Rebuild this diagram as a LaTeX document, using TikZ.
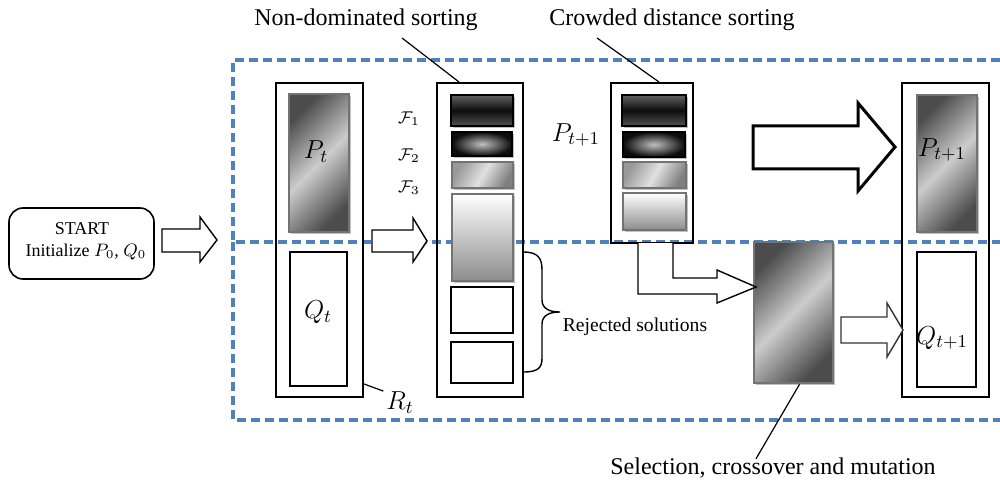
\RequirePackage{fix-cm}
\documentclass[tikz,border=0pt]{standalone}
\usepackage{fontspec}
\setmainfont{Liberation Serif}
\usetikzlibrary{fit,shadows}
\definecolor{dblue}{RGB}{79,129,189}
\begin{document}
\begin{tikzpicture}[x=0.5pt,y=-0.5pt,
  box/.style={draw=black, line width=1pt, inner sep=0pt},
  dashblue/.style={draw=dblue, line width=1.6pt, dash pattern=on 4.5pt off 2.5pt},
  shad/.style={drop shadow={shadow xshift=1pt, shadow yshift=-1pt, opacity=0.45, fill=black!55}},
  gradbox/.style={inner sep=0pt, draw=black!55, line width=1.3pt, shad,
     top color=black!70, bottom color=black!70, middle color=black!20, shading angle=45},
  barA/.style={inner sep=0pt, draw=black, line width=1.3pt, shad,
     top color=black!62, bottom color=black!68, middle color=black!95, shading angle=0},
  barB/.style={inner sep=0pt, draw=black, line width=1.3pt, shad,
     inner color=black!25, outer color=black!95},
  barC/.style={inner sep=0pt, draw=black!55, line width=1.3pt, shad,
     top color=black!40, bottom color=black!50, middle color=black!12, shading angle=60},
  barD/.style={inner sep=0pt, draw=black!55, line width=1.3pt, shad,
     top color=white, bottom color=black!45},
  blockarr/.style={draw=black, line width=0.7pt, fill=white, line join=miter},
  leader/.style={draw=black, line width=0.6pt},
  lbl/.style={font=\fontsize{12}{14}\selectfont},
  mlbl/.style={font=\fontsize{13}{15}\selectfont},
  flbl/.style={font=\fontsize{8.5}{10}\selectfont}
]
\useasboundingbox (0,0) rectangle (1000,486);

% dashed frames
\draw[dashblue] (1000,60) -- (233,60) -- (233,242) -- (1000,242);
\draw[dashblue] (233,242) -- (233,420) -- (1000,420);

% START
\node[draw, rounded corners=7pt, line width=0.8pt, inner sep=0pt, fit={(9,208) (154,279)}] (start) {};
\node[font=\fontsize{9}{10}\selectfont] (starttxt) at (82,229) {START};
\node[font=\fontsize{9}{10}\selectfont] (inittxt) at (86,252) {Initialize $P_0$, $Q_0$};
\draw[blockarr] (162,229) -- (200,229) -- (200,217) -- (217,240) -- (200,262) -- (200,252) -- (162,252) -- cycle;

% R_t column
\node[box, fit={(276,83) (363,397)}] (R) {};
\node[gradbox, fit={(289,94) (349,232)}] (Pt) {};
\node[mlbl] (Ptl) at (316,152) {$P_t$};
\node[box, fill=white, fit={(290,252) (347,386)}] (Qt) {};
\node[mlbl] (Qtl) at (318,312) {$Q_t$};
\node[mlbl] (Rtl) at (400,403) {$R_t$};
\draw[leader] ([yshift=7pt]R.south east) -- ([xshift=2pt,yshift=-3pt]Rtl.north west);

% F labels
\node[flbl] (F1) at (409,119) {$\mathcal{F}_1$};
\node[flbl] (F2) at (409,156) {$\mathcal{F}_2$};
\node[flbl] (F3) at (409,188) {$\mathcal{F}_3$};

\draw[blockarr] (372,230) -- (413,230) -- (413,218) -- (427,241) -- (413,262) -- (413,252) -- (372,252) -- cycle;

% sorting column
\node[box, fit={(437,83) (523,397)}] (S) {};
\node[barA, fit={(451,95) (513,126)}] (s1) {};
\node[barB, fit={(452,132) (512,156)}] (s2) {};
\node[barC, fit={(452,162) (513,188)}] (s3) {};
\node[barD, fit={(452,194) (513,281)}] (s4) {};
\node[box, fill=white, fit={(451,287) (513,333)}] (s5) {};
\node[box, fill=white, fit={(451,342) (513,383)}] (s6) {};

\node[lbl] (nd) at (366,20) {Non-dominated sorting};
\draw[leader] ([xshift=18pt]nd.south) -- ([xshift=11.5pt]S.north west);

% brace
\draw[line width=0.7pt] (523,252) .. controls (538,252) and (542,258) .. (542,270) -- (542,300)
   .. controls (542,309) and (550,312) .. (560,312) .. controls (550,312) and (542,315) .. (542,324)
   -- (542,358) .. controls (542,368) and (538,372) .. (523,372);
\node[font=\fontsize{9.8}{12}\selectfont] (rej) at (635,327) {Rejected solutions};

% crowded column
\node[mlbl] (Pt1) at (576,135) {$P_{t+1}$};
\node[box, fit={(611,83) (693,243)}] (C) {};
\node[barA, fit={(622,95) (686,126)}] (c1) {};
\node[barB, fit={(623,132) (685,157)}] (c2) {};
\node[barC, fit={(623,162) (686,188)}] (c3) {};
\node[barD, fit={(623,193) (686,230)}] (c4) {};
\node[lbl] (cd) at (672,20) {Crowded distance sorting};
\draw[leader] ([xshift=-37.5pt]cd.south) -- ([xshift=24.5pt]C.north west);

% big arrow
\draw[blockarr, line width=1.5pt] (753,126) -- (858,126) -- (858,103) -- (895,147) -- (858,191) -- (858,169) -- (753,169) -- cycle;

% next generation column
\node[box, fit={(902,83) (989,397)}] (N) {};
\node[gradbox, fit={(917,95) (977,232)}] (Pn) {};
\node[mlbl] (Pnl) at (942,150) {$P_{t+1}$};
\node[box, fill=white, fit={(917,252) (976,387)}] (Qn) {};
\node[mlbl] (Qnl) at (942,338) {$Q_{t+1}$};

% selection
\node[gradbox, fit={(754,242) (833,383)}] (Sel) {};
\draw[blockarr] (638,243) -- (638,294) -- (717,294) -- (717,303) -- (756,287) -- (717,270) -- (717,278) -- (673,278) -- (673,243);
\draw[blockarr, draw=black!80] (841,317) -- (887,317) -- (887,303) -- (903,330) -- (887,357) -- (887,343) -- (841,343) -- cycle;
\node[lbl] (sel) at (773,468) {Selection, crossover and mutation};
\draw[leader] ([xshift=3pt]Sel.south) -- ([xshift=-8.5pt,yshift=-4pt]sel.north);
\end{tikzpicture}
\end{document}
